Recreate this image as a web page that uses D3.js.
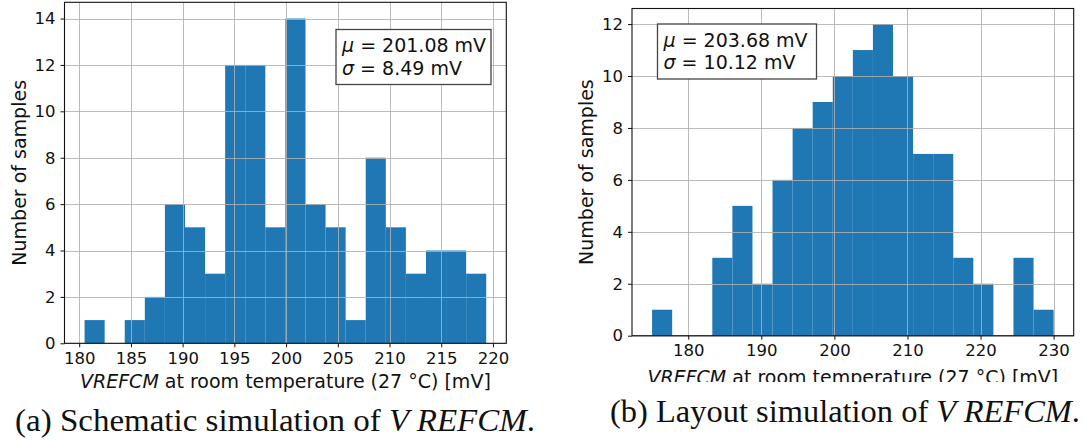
<!DOCTYPE html>
<html lang="en">

<head>
  <meta charset="UTF-8">
  <title>vrefcm-histograms</title>
  <script src="https://d3js.org/d3.v7.min.js"></script>
  <style>
    body { margin: 0; background: #fff; }
    text { font-family: "DejaVu Sans", sans-serif; fill: #111; }
    text.caption { font-family: "Liberation Serif", serif; }
  </style>
</head>

<body>
</body>
<script>
  const WIDTH = 1085;
  const HEIGHT = 441;

  // (a) schematic simulation: 20 bins between the min and max sample
  const schematicRange = [180.52, 219.35];
  const schematicCounts = [1, 0, 1, 2, 6, 5, 3, 12, 12, 5, 14, 6, 5, 1, 8, 5, 3, 4, 4, 3];
  const schematicXTicks = [180, 185, 190, 195, 200, 205, 210, 215, 220];
  const schematicYTicks = [0, 2, 4, 6, 8, 10, 12, 14];
  const schematicStats = ['201.08', '8.49'];

  // (b) layout simulation
  const layoutRange = [175.05, 230.0];
  const layoutCounts = [1, 0, 0, 3, 5, 2, 6, 8, 9, 10, 11, 12, 10, 7, 7, 3, 2, 0, 3, 1];
  const layoutXTicks = [180, 190, 200, 210, 220, 230];
  const layoutYTicks = [0, 2, 4, 6, 8, 10, 12];
  const layoutStats = ['203.68', '10.12'];

  const xLabel = 'at room temperature (27 °C) [mV]';
  const yLabel = 'Number of samples';

  const svg = d3.select('body')
    .append('svg')
    .attr('width', WIDTH)
    .attr('height', HEIGHT);

  function drawHist(opt) {
    const { left, right, top, bottom } = opt.box;
    const n = opt.counts.length;

    // matplotlib style 5% margin on x around the data
    const pad = (opt.range[1] - opt.range[0]) * 0.05;
    const x = d3.scaleLinear()
      .domain([opt.range[0] - pad, opt.range[1] + pad])
      .range([left, right]);
    const y = d3.scaleLinear()
      .domain([0, d3.max(opt.counts) * 1.05])
      .range([bottom, top]);
    const edge = d3.scaleLinear().domain([0, n]).range(opt.range);

    const g = svg.append('g');
    if (opt.clipY) {
      const id = 'clip-' + opt.name;
      svg.append('clipPath').attr('id', id)
        .append('rect').attr('x', 0).attr('y', 0).attr('width', WIDTH).attr('height', opt.clipY);
      g.attr('clip-path', `url(#${id})`);
    }

    g.selectAll('rect.bar')
      .data(opt.counts)
      .enter()
      .append('rect')
      .attr('class', 'bar')
      .attr('x', (d, i) => x(edge(i)))
      .attr('width', (d, i) => x(edge(i + 1)) - x(edge(i)))
      .attr('y', d => y(d))
      .attr('height', d => bottom - y(d))
      .attr('fill', '#1f77b4');

    // grid on top of the bars
    const grid = g.append('g')
      .attr('stroke', '#b0b0b0')
      .attr('stroke-opacity', 0.85)
      .attr('stroke-width', 1);
    grid.selectAll('line.gx')
      .data(opt.xTicks)
      .enter()
      .append('line')
      .attr('x1', d => Math.round(x(d)) + 0.5)
      .attr('x2', d => Math.round(x(d)) + 0.5)
      .attr('y1', top)
      .attr('y2', bottom);
    grid.selectAll('line.gy')
      .data(opt.yTicks)
      .enter()
      .append('line')
      .attr('y1', d => Math.round(y(d)) + 0.5)
      .attr('y2', d => Math.round(y(d)) + 0.5)
      .attr('x1', left)
      .attr('x2', right);

    const xAxis = d3.axisBottom(x)
      .tickValues(opt.xTicks)
      .tickSize(4)
      .tickPadding(5);
    const yAxis = d3.axisLeft(y)
      .tickValues(opt.yTicks)
      .tickSize(4)
      .tickPadding(5);

    const gx = g.append('g')
      .attr('transform', `translate(0, ${bottom})`)
      .call(xAxis);
    const gy = g.append('g')
      .attr('transform', `translate(${left}, 0)`)
      .call(yAxis);
    [gx, gy].forEach(a => {
      a.select('.domain').remove();
      a.selectAll('.tick line').attr('stroke', '#111');
      a.selectAll('.tick text')
        .style('font-family', '"DejaVu Sans", sans-serif')
        .style('font-size', '16.5px')
        .attr('fill', '#111');
    });

    // frame
    g.append('rect')
      .attr('x', left)
      .attr('y', top)
      .attr('width', right - left)
      .attr('height', bottom - top)
      .attr('fill', 'none')
      .attr('stroke', '#111')
      .attr('stroke-width', 1.1);

    const xl = g.append('text')
      .attr('x', (left + right) / 2)
      .attr('y', opt.xLabelY)
      .attr('text-anchor', 'middle')
      .style('font-size', '19px');
    xl.append('tspan').style('font-style', 'italic').text('VREFCM');
    xl.append('tspan').text(' ' + xLabel);

    g.append('text')
      .attr('transform', `translate(${opt.yLabelX}, ${(top + bottom) / 2}) rotate(-90)`)
      .attr('text-anchor', 'middle')
      .attr('dy', '0.35em')
      .style('font-size', '19px')
      .text(yLabel);

    // stats box
    const b = opt.statBox;
    g.append('rect')
      .attr('x', b.x)
      .attr('y', b.y)
      .attr('width', b.w)
      .attr('height', b.h)
      .attr('fill', '#fff')
      .attr('stroke', '#444')
      .attr('stroke-width', 1.3);
    const symbols = ['μ', 'σ'];
    symbols.forEach((s, i) => {
      const t = g.append('text')
        .attr('x', b.x + 6)
        .attr('y', b.y + 22.5 + i * 22.5)
        .style('font-size', '19px');
      t.append('tspan').style('font-style', 'italic').text(s);
      t.append('tspan').text(' = ' + opt.stats[i] + ' mV');
    });
  }

  drawHist({
    name: 'a',
    box: { left: 64.5, right: 506.3, top: 2.3, bottom: 343.3 },
    range: schematicRange,
    counts: schematicCounts,
    xTicks: schematicXTicks,
    yTicks: schematicYTicks,
    stats: schematicStats,
    statBox: { x: 336, y: 29.5, w: 155, h: 55 },
    xLabelY: 388,
    yLabelX: 19
  });

  drawHist({
    name: 'b',
    box: { left: 632, right: 1073.7, top: 8.5, bottom: 335.7 },
    range: layoutRange,
    counts: layoutCounts,
    xTicks: layoutXTicks,
    yTicks: layoutYTicks,
    stats: layoutStats,
    statBox: { x: 657.5, y: 24, w: 159, h: 55 },
    xLabelY: 384,
    yLabelX: 586,
    clipY: 382
  });

  // sub-figure captions
  const captions = [
    { x: 15, y: 431, w: 520, lead: '(a) Schematic simulation of ' },
    { x: 610, y: 422, w: 470, lead: '(b) Layout simulation of ' }
  ];
  captions.forEach(c => {
    const t = svg.append('text')
      .attr('class', 'caption')
      .attr('x', c.x)
      .attr('y', c.y)
      .attr('textLength', c.w)
      .attr('lengthAdjust', 'spacingAndGlyphs')
      .style('font-size', '31px');
    t.append('tspan').text(c.lead);
    t.append('tspan').style('font-style', 'italic').text('V REFCM');
    t.append('tspan').text('.');
  });
</script>

</html>
